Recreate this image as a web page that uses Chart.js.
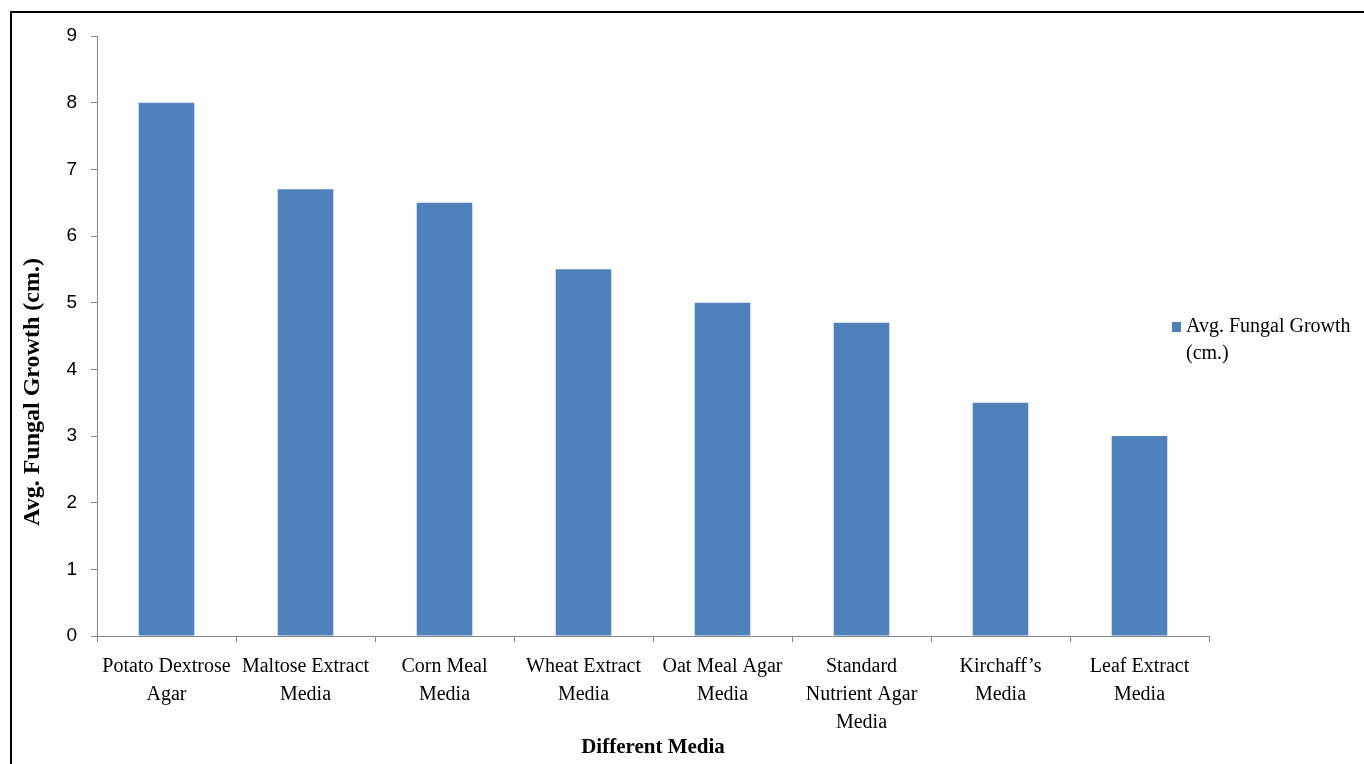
<!DOCTYPE html>
<html lang="en">
<head>
    <meta charset="UTF-8">
    <title>Avg. Fungal Growth on Different Media</title>
    <script src="https://cdn.jsdelivr.net/npm/chart.js"></script>
    <style>
        html, body { margin: 0; padding: 0; background: #fff; overflow: hidden; }
        .frame { position: absolute; left: 10px; top: 11px; width: 1400px; height: 800px; border: 2px solid #000; }
        .wrap { position: absolute; left: 0; top: 0; width: 1364px; height: 764px; }
    </style>
</head>
<body>
    <div class="frame"></div>
    <div class="wrap"><canvas id="growthChart"></canvas></div>

    <script>
        // data
        const media = [
            ["Potato Dextrose", "Agar"],
            ["Maltose Extract", "Media"],
            ["Corn Meal", "Media"],
            ["Wheat Extract", "Media"],
            ["Oat Meal Agar", "Media"],
            ["Standard", "Nutrient Agar", "Media"],
            ["Kirchaff\u2019s", "Media"],
            ["Leaf Extract", "Media"]
        ];
        const growth = [8, 6.7, 6.5, 5.5, 5, 4.7, 3.5, 3];
        const seriesName = ["Avg. Fungal Growth", "(cm.)"];
        const yTitle = "Avg. Fungal Growth (cm.)";

        const axisGrey = "#868686";
        const serif = "'Liberation Serif', 'Times New Roman', serif";

        // legend on the right (two lines) and the y title, which sits a bit low in the original
        const extras = {
            id: "extras",
            afterDraw(chart) {
                const ctx = chart.ctx;
                const ds = chart.data.datasets[0];
                const x = 1172, y = 322;
                ctx.save();
                ctx.fillStyle = ds.backgroundColor;
                ctx.fillRect(x, y, 9, 10);
                ctx.fillStyle = "#000";
                ctx.font = "20px " + serif;
                ctx.textBaseline = "middle";
                ctx.fillText(seriesName[0], x + 14, y + 5);
                ctx.fillText(seriesName[1], x + 14, y + 32);

                ctx.translate(33, 392);
                ctx.rotate(-Math.PI / 2);
                ctx.font = "bold 24px " + serif;
                ctx.textAlign = "center";
                ctx.fillText(yTitle, 0, 0);
                ctx.restore();
            }
        };

        new Chart(document.getElementById("growthChart"), {
            type: "bar",
            data: {
                labels: media,
                datasets: [{
                    label: seriesName.join(" "),
                    data: growth,
                    backgroundColor: "#4F81BD",
                    categoryPercentage: 0.4,
                    barPercentage: 1
                }]
            },
            options: {
                responsive: true,
                maintainAspectRatio: false,
                animation: false,
                layout: { padding: { left: 14, right: 155, top: 36, bottom: 4 } },
                plugins: { legend: { display: false }, tooltip: { enabled: false } },
                scales: {
                    x: {
                        grid: { display: true, drawOnChartArea: false, drawTicks: true, tickLength: 6, color: axisGrey, offset: true },
                        border: { color: axisGrey },
                        ticks: { color: "#000", maxRotation: 0, autoSkip: false, font: { family: serif, size: 20, lineHeight: 1.4 }, padding: 11 },
                        title: { display: true, text: "Different Media", color: "#000", font: { family: serif, size: 21, weight: "bold" }, padding: { top: 0, bottom: 0 } },
                        afterFit(axis) { axis.height = 124; }
                    },
                    y: {
                        min: 0, max: 9,
                        grid: { display: true, drawOnChartArea: false, drawTicks: true, tickLength: 6, color: axisGrey },
                        border: { color: axisGrey },
                        ticks: { stepSize: 1, color: "#000", font: { family: "'Liberation Sans', Arial, sans-serif", size: 19 }, padding: 14 },
                        afterFit(axis) { axis.width = 83; }
                    }
                }
            },
            plugins: [extras]
        });
    </script>
</body>
</html>
